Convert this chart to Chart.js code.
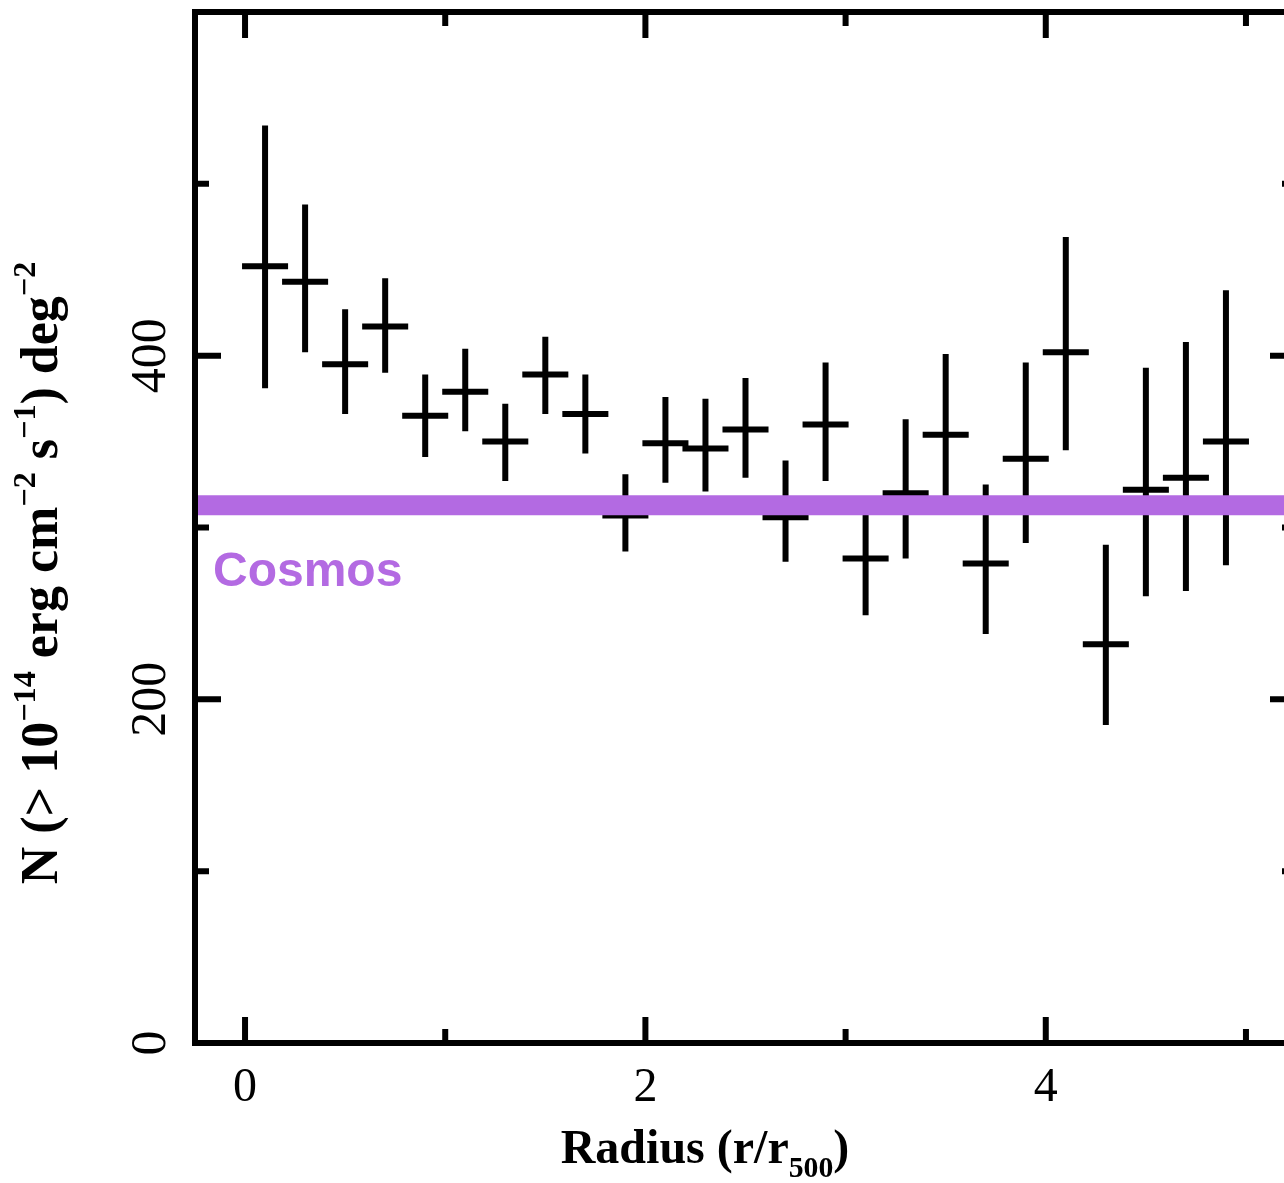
<!DOCTYPE html>
<html>
<head>
<meta charset="utf-8">
<script src="https://cdn.jsdelivr.net/npm/chart.js@4.4.1/dist/chart.umd.min.js"></script>
<style>
  html, body { margin: 0; padding: 0; background: #fff; overflow: hidden; }
  #wrap { width: 1320px; height: 1183px; }
</style>
</head>
<body>
<div id="wrap"><canvas id="chart"></canvas></div>
<script>
// radial bins (r/r500) and source density with error range
const radius   = [0.1, 0.3, 0.5, 0.7, 0.9, 1.1, 1.3, 1.5, 1.7, 1.9, 2.1, 2.3, 2.5, 2.7, 2.9, 3.1, 3.3, 3.5, 3.7, 3.9, 4.1, 4.3, 4.5, 4.7, 4.9];
const counts   = [452, 443, 395, 417, 365, 379, 350, 389, 366, 307, 349, 346, 357, 306, 360, 282, 320, 354, 279, 340, 402, 232, 322, 329, 350];
const countsHi = [534, 488, 427, 445, 389, 404, 372, 411, 389, 331, 376, 375, 387, 339, 396, 318, 363, 401, 325, 396, 469, 290, 393, 408, 438];
const countsLo = [381, 402, 366, 390, 341, 356, 327, 366, 343, 286, 326, 321, 329, 280, 327, 249, 282, 318, 238, 291, 345, 185, 260, 263, 278];
const binHalfWidth = 0.1;
const cosmosLevel = 313;

const xMajorTicks = [0, 2, 4];
const xMinorTicks = [1, 3, 5];
const yMajorTicks = [0, 200, 400, 600];
const yMinorTicks = [100, 300, 500];
const xTickLabels = ["0", "2", "4"];
const yTickLabels = ["0", "200", "400"];

const purple = "#b36ae2";
const serif = '"Liberation Serif", "Times New Roman", serif';

// error bars as broken line segments (null = gap)
const vertSegs = [];
const horizSegs = [];
radius.forEach((r, i) => {
  vertSegs.push({x: r, y: countsLo[i]}, {x: r, y: countsHi[i]}, {x: r, y: null});
  horizSegs.push({x: r - binHalfWidth, y: counts[i]}, {x: r + binHalfWidth, y: counts[i]}, {x: r, y: null});
});

function drawRich(ctx, segs, size, weight) {
  // measure then draw centred at origin, baseline 0
  let total = 0;
  segs.forEach(s => {
    const fs = s.sup || s.sub ? size * 0.62 : size;
    ctx.font = weight + " " + fs + "px " + serif;
    s.w = ctx.measureText(s.t).width;
    total += s.w;
  });
  let cx = -total / 2;
  ctx.textAlign = "left";
  ctx.textBaseline = "alphabetic";
  segs.forEach(s => {
    const fs = s.sup || s.sub ? size * 0.62 : size;
    ctx.font = weight + " " + fs + "px " + serif;
    const dy = s.sup ? -size * 0.42 : (s.sub ? size * 0.3 : 0);
    ctx.fillText(s.t, cx, dy);
    cx += s.w;
  });
}

const frame = {
  id: "frame",
  afterDraw(chart) {
    const {ctx, chartArea: a, scales: {x, y}} = chart;
    ctx.save();
    ctx.strokeStyle = "#000";
    ctx.fillStyle = "#000";
    ctx.lineWidth = 6;
    ctx.lineCap = "butt";
    ctx.strokeRect(a.left, a.top, a.right - a.left, a.bottom - a.top);

    const xt = (v, len) => {
      const px = x.getPixelForValue(v);
      ctx.beginPath();
      ctx.moveTo(px, a.bottom); ctx.lineTo(px, a.bottom - len);
      ctx.moveTo(px, a.top); ctx.lineTo(px, a.top + len);
      ctx.stroke();
    };
    const yt = (v, len) => {
      const py = y.getPixelForValue(v);
      ctx.beginPath();
      ctx.moveTo(a.left, py); ctx.lineTo(a.left + len, py);
      ctx.moveTo(a.right, py); ctx.lineTo(a.right - len, py);
      ctx.stroke();
    };
    xMajorTicks.forEach(v => xt(v, 26));
    xMinorTicks.forEach(v => xt(v, 14));
    yMajorTicks.forEach(v => yt(v, 26));
    yMinorTicks.forEach(v => yt(v, 14));

    // tick labels
    ctx.font = "48px " + serif;
    ctx.textAlign = "center";
    ctx.textBaseline = "alphabetic";
    xTickLabels.forEach(t => {
      ctx.fillText(t, x.getPixelForValue(Number(t)), a.bottom + 58);
    });
    ctx.font = "50px " + serif;
    yTickLabels.forEach(t => {
      ctx.save();
      ctx.translate(a.left - 30, y.getPixelForValue(Number(t)));
      ctx.rotate(-Math.PI / 2);
      ctx.fillText(t, 0, 0);
      ctx.restore();
    });

    // axis titles
    ctx.save();
    ctx.translate(705, 1163);
    drawRich(ctx, [{t: "Radius (r/r"}, {t: "500", sub: true}, {t: ")"}], 48, "bold");
    ctx.restore();

    ctx.save();
    ctx.translate(57, 573);
    ctx.rotate(-Math.PI / 2);
    drawRich(ctx, [
      {t: "N (> 10"}, {t: "\u221214", sup: true},
      {t: " erg cm"}, {t: "\u22122", sup: true},
      {t: " s"}, {t: "\u22121", sup: true},
      {t: ") deg"}, {t: "\u22122", sup: true}
    ], 52, "bold");
    ctx.restore();

    // label for the reference level
    ctx.fillStyle = purple;
    ctx.font = 'bold 48px "Liberation Sans", Arial, sans-serif';
    ctx.textAlign = "left";
    ctx.fillText("Cosmos", a.left + 18, y.getPixelForValue(cosmosLevel) + 81);
    ctx.restore();
  }
};

new Chart(document.getElementById("chart"), {
  type: "line",
  data: {
    datasets: [
      {
        label: "Cosmos",
        data: [{x: -0.25, y: cosmosLevel}, {x: 5.25, y: cosmosLevel}],
        borderColor: purple,
        borderWidth: 20,
        pointRadius: 0,
        order: 0
      },
      {
        label: "err y",
        data: vertSegs,
        borderColor: "#000",
        borderWidth: 6,
        borderCapStyle: "butt",
        pointRadius: 0,
        spanGaps: false,
        order: 1
      },
      {
        label: "err x",
        data: horizSegs,
        borderColor: "#000",
        borderWidth: 6,
        borderCapStyle: "square",
        pointRadius: 0,
        spanGaps: false,
        order: 1
      }
    ]
  },
  options: {
    responsive: true,
    maintainAspectRatio: false,
    animation: false,
    events: [],
    layout: { padding: { left: 195, top: 12, right: 24, bottom: 140 } },
    plugins: { legend: { display: false }, tooltip: { enabled: false } },
    scales: {
      x: { type: "linear", min: -0.25, max: 5.25, display: false },
      y: { type: "linear", min: 0, max: 600, display: false }
    }
  },
  plugins: [frame]
});
</script>
</body>
</html>
